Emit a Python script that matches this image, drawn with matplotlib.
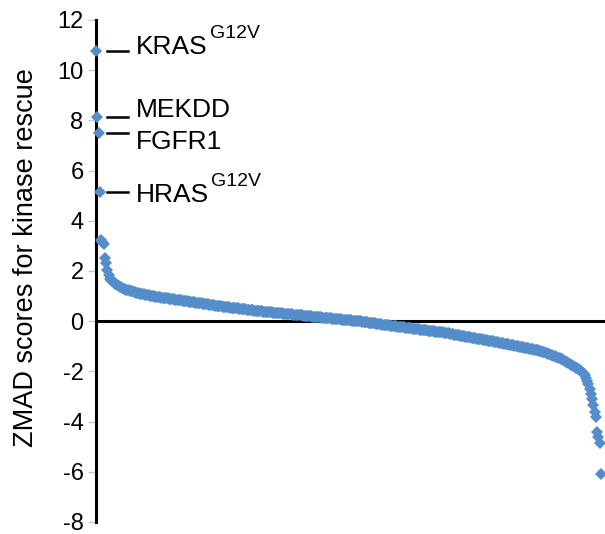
import numpy as np
import matplotlib.pyplot as plt
from matplotlib.transforms import blended_transform_factory

# --- ZMAD scores, sorted high to low ---
zmad = [
    10.76, 8.12, 7.48, 5.13, 3.22, 3.15, 3.08,
    2.50, 2.30, 2.05, 1.85, 1.70, 1.64, 1.60, 1.55, 1.50,
    1.47, 1.44, 1.41, 1.38, 1.35, 1.31,
    1.29, 1.28, 1.26, 1.25, 1.23, 1.22, 1.20, 1.19, 1.17, 1.16, 1.14, 1.13, 1.12, 1.10,
    1.09, 1.08, 1.07, 1.06, 1.05, 1.04, 1.03, 1.02, 1.01, 1.00, 0.99, 0.98, 0.97,
    0.96, 0.96, 0.95, 0.94, 0.94, 0.93, 0.92, 0.91, 0.91, 0.90,
    0.89, 0.88, 0.88, 0.87, 0.86, 0.86, 0.85, 0.84, 0.83, 0.83,
    0.82, 0.81, 0.80, 0.80, 0.79, 0.78,
    0.77, 0.77, 0.76, 0.75, 0.74, 0.74, 0.73, 0.72, 0.71, 0.71,
    0.70, 0.69, 0.68, 0.68, 0.67, 0.66, 0.65, 0.65, 0.64, 0.63,
    0.62, 0.62, 0.61, 0.60,
    0.59, 0.59, 0.58, 0.57, 0.57, 0.56, 0.56, 0.55, 0.54, 0.54,
    0.53, 0.52, 0.52, 0.51, 0.51, 0.50, 0.49, 0.49, 0.48, 0.47,
    0.47, 0.46, 0.46, 0.45, 0.44, 0.44, 0.43, 0.42, 0.42, 0.41,
    0.41, 0.40,
    0.39, 0.39, 0.38, 0.38, 0.37, 0.37, 0.36, 0.36, 0.35, 0.35,
    0.34, 0.34, 0.33, 0.33, 0.32, 0.32, 0.31, 0.31, 0.30, 0.30,
    0.29, 0.29, 0.28, 0.28, 0.27, 0.27, 0.26, 0.26, 0.25, 0.25,
    0.24, 0.24, 0.23, 0.23, 0.22, 0.22, 0.21, 0.21, 0.20,
    0.19, 0.19, 0.18, 0.18, 0.17, 0.17, 0.16, 0.16, 0.15, 0.15,
    0.14, 0.14, 0.13, 0.13, 0.12, 0.12, 0.11, 0.11, 0.10, 0.10,
    0.09, 0.09, 0.08, 0.08, 0.07, 0.07, 0.06, 0.06, 0.05, 0.05,
    0.04, 0.04, 0.03, 0.03, 0.02, 0.02, 0.01, 0.01, 0.00, 0.00,
    -0.01, -0.01, -0.02, -0.03, -0.04, -0.04, -0.05, -0.06, -0.06, -0.07,
    -0.08, -0.09, -0.09, -0.10, -0.11, -0.11, -0.12, -0.13, -0.14, -0.14,
    -0.15, -0.16, -0.16, -0.17, -0.18, -0.19, -0.19, -0.20, -0.21, -0.21,
    -0.22,
    -0.23, -0.23, -0.24, -0.25, -0.25, -0.26, -0.27, -0.27, -0.28, -0.29,
    -0.29, -0.30, -0.30, -0.31, -0.32, -0.32, -0.33, -0.34, -0.34, -0.35,
    -0.36, -0.36, -0.37, -0.38, -0.38, -0.39, -0.40, -0.40, -0.41, -0.42,
    -0.42, -0.43, -0.43, -0.44, -0.45, -0.45, -0.46, -0.47, -0.47, -0.48,
    -0.49, -0.50, -0.51, -0.52, -0.53, -0.53, -0.54, -0.55, -0.56, -0.57,
    -0.58, -0.59, -0.60, -0.61, -0.62, -0.62, -0.63, -0.64, -0.65, -0.66,
    -0.67, -0.68, -0.69, -0.70, -0.71, -0.71, -0.72, -0.73, -0.74, -0.75,
    -0.76, -0.77, -0.78, -0.79, -0.80, -0.80, -0.81, -0.82, -0.83,
    -0.84, -0.85, -0.86, -0.87, -0.88, -0.89, -0.90, -0.91, -0.92, -0.93,
    -0.94, -0.95, -0.96, -0.97, -0.98, -0.99, -1.00, -1.01, -1.02, -1.03,
    -1.04, -1.05, -1.06, -1.07, -1.08, -1.09, -1.10, -1.11, -1.12, -1.13,
    -1.14, -1.15,
    -1.16, -1.18, -1.19, -1.21, -1.22, -1.24, -1.26, -1.27, -1.29, -1.31,
    -1.33, -1.35, -1.37, -1.39, -1.41, -1.43, -1.45, -1.47, -1.49, -1.52,
    -1.55,
    -1.58, -1.61, -1.64, -1.67, -1.70, -1.73, -1.76, -1.79, -1.82, -1.85,
    -1.88, -1.91, -1.94, -1.97, -2.01, -2.07,
    -2.15, -2.25, -2.38, -2.52, -2.70, -2.90, -3.10, -3.35, -3.60, -3.80,
    -4.40, -4.60, -4.87, -6.10,
]

# --- Labelled hits (first four ranks) ---
hit_names = ["KRAS", "MEKDD", "FGFR1", "HRAS"]
hit_sups = ["G12V", "", "", "G12V"]
hit_text_y = [10.92, 8.40, 7.12, 5.01]

yticks = [-8, -6, -4, -2, 0, 2, 4, 6, 8, 10, 12]
ylabel = "ZMAD scores for kinase rescue"

plt.rcParams["font.family"] = ["Liberation Sans", "DejaVu Sans"]
plt.rcParams["axes.unicode_minus"] = False

fig = plt.figure(figsize=(6.05, 5.34), dpi=100)
ax = fig.add_axes([96 / 605, 1 - 522 / 534, 509 / 605, 502 / 534])

rank = np.arange(1, len(zmad) + 1)
ax.plot(rank, zmad, ls="none", marker="D", ms=6.0, mew=0,
        color="#558DCB", zorder=3, clip_on=False)

ax.axhline(0, color="black", lw=2.2, zorder=2)

ax.set_ylim(-8, 12)
ax.set_xlim(1, 1 + (len(zmad) - 1) * 509 / 505)
ax.set_yticks(yticks)
ax.set_xticks([])

for side in ["top", "right", "bottom"]:
    ax.spines[side].set_visible(False)
ax.spines["left"].set_linewidth(2.2)
ax.spines["left"].set_zorder(2)

ax.tick_params(axis="y", direction="out", length=6, width=1,
               color="#C8C8C8", labelsize=17, pad=3)

fig.text(26 / 605, 1 - 258 / 534, ylabel, rotation=90,
         ha="center", va="center", fontsize=19.5)

# --- Dash marks and hit labels ---
trans = blended_transform_factory(ax.transAxes, ax.transData)
for k, name in enumerate(hit_names):
    ax.plot([11 / 509, 32 / 509], [zmad[k], zmad[k]], color="black",
            lw=1.8, transform=trans, clip_on=False)
    t = ax.text(40 / 509, hit_text_y[k], name, transform=trans,
                ha="left", va="center", fontsize=19)
    if hit_sups[k]:
        ax.annotate(hit_sups[k], xy=(1, 1), xycoords=t,
                    xytext=(1.5, 7.5), textcoords="offset points",
                    ha="left", va="top", fontsize=14)

fig.savefig("out.png", dpi=100)
